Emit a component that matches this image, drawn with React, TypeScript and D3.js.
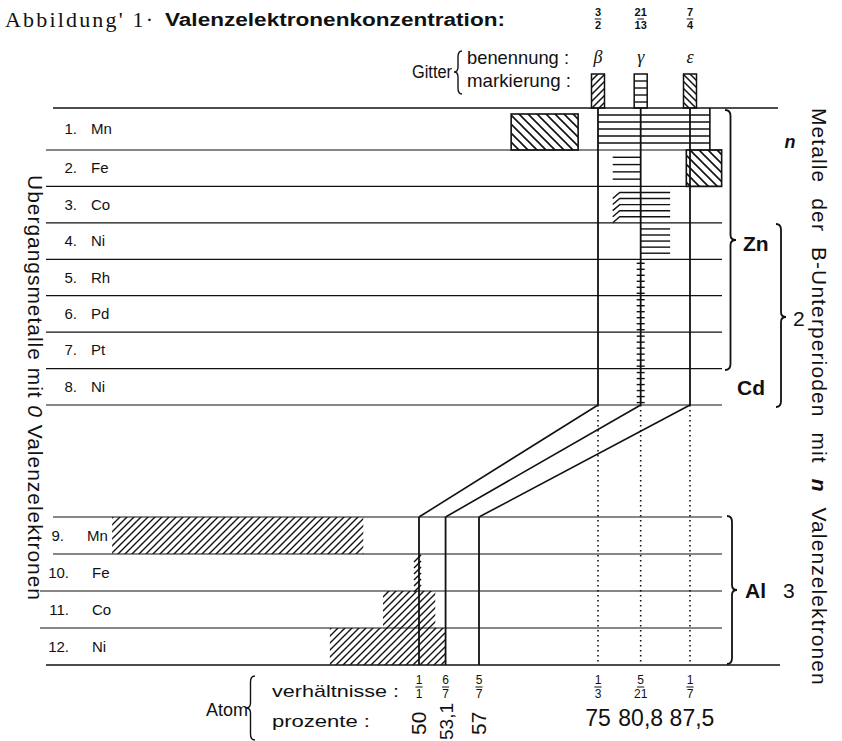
import React from "react";
import * as d3 from "d3";

// rows of the diagram
const upperMetals = ["Mn", "Fe", "Co", "Ni", "Rh", "Pd", "Pt", "Ni"];
const lowerMetals = ["Mn", "Fe", "Co", "Ni"];

// phases on top
const phaseNames = ["β", "γ", "ε"];
const phaseConc = [["3", "2"], ["21", "13"], ["7", "4"]];

// bottom axis (atom ratios / percent)
const upperPct = [75, 80.8, 87.5];
const upperPctLabels = ["75", "80,8", "87,5"];
const upperRatio = [["1", "3"], ["5", "21"], ["1", "7"]];
const lowerPct = [50, 53.1, 57];
const lowerPctLabels = ["50", "53,1", "57"];
const lowerRatio = [["1", "1"], ["6", "7"], ["5", "7"]];

// hatched fields (row, from %, to %)
const upperBackHatch = [
  { row: 0, from: 63.2, to: 72.3 },
  { row: 1, from: 87.0, to: 91.8 },
];
const upperGammaLines = [
  { row: 0, from: 75, to: 90.2, n: 5, slant: false },
  { row: 1, from: 77, to: 80.8, n: 4, slant: false },
  { row: 2, from: 77, to: 84.8, n: 5, slant: true },
  { row: 3, from: 80.8, to: 84.8, n: 5, slant: false },
];
const upperLadderRows = [4, 5, 6, 7];
const lowerHatch = [
  { row: 0, from: 14.2, to: 43.5 },
  { row: 2, from: 45.8, to: 51.9 },
  { row: 3, from: 39.6, to: 53.1 },
];
const lowerLadderRows = [1];

const sans = "'Liberation Sans', Arial, sans-serif";
const narrow = "'Liberation Sans Narrow', 'Liberation Sans', Arial, sans-serif";

function brace(x: number, y1: number, y2: number, ym: number, w: number, dir = 1) {
  const h = x + (dir * w) / 2;
  const t = x + dir * w;
  return `M${x},${y1} Q${h},${y1} ${h},${y1 + 6} L${h},${ym - 5} Q${h},${ym} ${t},${ym} Q${h},${ym} ${h},${ym + 5} L${h},${y2 - 6} Q${h},${y2} ${x},${y2}`;
}

export default function App() {
  const W = 842, H = 741;
  const xUp = d3.scaleLinear().domain([75, 87.5]).range([598, 690]);
  const xLo = d3.scaleLinear().domain([50, 57]).range([419, 479]);
  const yUp = d3.scaleLinear().domain([1, 8]).range([150, 405]);
  const upTop = (r: number) => (r === 0 ? 108 : yUp(r));
  const yLo = d3.scaleLinear().domain([0, 4]).range([517, 665]);
  const ink = "#111";

  const fraction = (x: number, y: number, num: string, den: string, size: number, weight = "normal") => (
    <g key={`${x}-${y}-${num}`} fontFamily={sans} fontSize={size} fontWeight={weight} textAnchor="middle" fill={ink}>
      <text x={x} y={y}>{num}</text>
      <line x1={x - size * 0.3} x2={x + size * 0.3} y1={y + 3} y2={y + 3} stroke={ink} strokeWidth={1} />
      <text x={x} y={y + size + 2}>{den}</text>
    </g>
  );

  return (
    <svg width={W} height={H} style={{ position: "absolute", left: 0, top: 0, background: "#fff" }}>
      <defs>
        <pattern id="fwd" patternUnits="userSpaceOnUse" width={7} height={7}>
          <path d="M-1,1 L1,-1 M0,7 L7,0 M6,8 L8,6" stroke={ink} strokeWidth={1.4} />
        </pattern>
        <pattern id="fwdS" patternUnits="userSpaceOnUse" width={7} height={7}>
          <path d="M-1,1 L1,-1 M0,7 L7,0 M6,8 L8,6" stroke={ink} strokeWidth={1.5} />
        </pattern>
        <pattern id="back" patternUnits="userSpaceOnUse" width={9} height={9}>
          <path d="M-1,8 L1,10 M0,0 L9,9 M8,-1 L10,1" stroke={ink} strokeWidth={1.6} />
        </pattern>
        <pattern id="backS" patternUnits="userSpaceOnUse" width={7} height={7}>
          <path d="M-1,6 L1,8 M0,0 L7,7 M6,-1 L8,1" stroke={ink} strokeWidth={1.5} />
        </pattern>
      </defs>

      {/* title */}
      <text x={5} y={27} fontFamily="'Liberation Serif', 'DejaVu Serif', serif" fontSize={22} textLength={148} lengthAdjust="spacing" fill={ink}>
        Abbildung' 1·
      </text>
      <text x={165} y={26} fontFamily={narrow} fontWeight="bold" fontSize={18} textLength={340} lengthAdjust="spacingAndGlyphs" fill={ink}>
        Valenzelektronenkonzentration:
      </text>
      {upperPct.map((p, i) => fraction(xUp(p), 16, phaseConc[i][0], phaseConc[i][1], 11, "bold"))}

      {/* Gitter header */}
      <text x={412} y={78} fontFamily={narrow} fontSize={18} textLength={40} lengthAdjust="spacingAndGlyphs" fill={ink}>Gitter</text>
      <path d={brace(462, 51, 94, 72, 8, -1)} fill="none" stroke={ink} strokeWidth={1.4} />
      <text x={467} y={64} fontFamily={narrow} fontSize={19} textLength={102} lengthAdjust="spacingAndGlyphs" fill={ink}>benennung :</text>
      <text x={467} y={87} fontFamily={narrow} fontSize={19} textLength={104} lengthAdjust="spacingAndGlyphs" fill={ink}>markierung :</text>
      {upperPct.map((p, i) => (
        <text key={`ph${i}`} x={xUp(p)} y={63} textAnchor="middle" fontFamily="'Liberation Serif', serif" fontStyle="italic" fontSize={18} fill={ink}>
          {phaseNames[i]}
        </text>
      ))}
      {upperPct.map((p, i) => {
        const x = xUp(p) - 6.5;
        return (
          <g key={`mk${i}`}>
            {i === 1 ? (
              d3.range(1, 5).map((k) => (
                <line key={k} x1={x} x2={x + 13} y1={74 + k * 7} y2={74 + k * 7} stroke={ink} strokeWidth={1.4} />
              ))
            ) : (
              <rect x={x} y={74} width={13} height={34} fill={i === 0 ? "url(#fwdS)" : "url(#backS)"} />
            )}
            <rect x={x} y={74} width={13} height={34} fill="none" stroke={ink} strokeWidth={1.5} />
          </g>
        );
      })}

      {/* row lines */}
      <line x1={53} x2={778} y1={108} y2={108} stroke={ink} strokeWidth={1.4} />
      {d3.range(1, 9).map((r) => (
        <line key={`ur${r}`} x1={46} x2={722} y1={yUp(r)} y2={yUp(r)} stroke={ink} strokeWidth={1.2} />
      ))}
      {d3.range(0, 4).map((r) => (
        <line key={`lr${r}`} x1={r < 2 ? 53 : 40} x2={722} y1={yLo(r)} y2={yLo(r)} stroke={ink} strokeWidth={1.2} />
      ))}
      <line x1={46} x2={780} y1={yLo(4)} y2={yLo(4)} stroke={ink} strokeWidth={1.6} />

      {/* row labels */}
      {upperMetals.map((m, i) => {
        const y = (upTop(i) + yUp(i + 1)) / 2 + 5;
        return (
          <g key={`um${i}`} fontFamily={sans} fontSize={15} fill={ink}>
            <text x={77} y={y} textAnchor="end">{`${i + 1}.`}</text>
            <text x={91} y={y}>{m}</text>
          </g>
        );
      })}
      {lowerMetals.map((m, i) => {
        const y = (yLo(i) + yLo(i + 1)) / 2 + 5;
        return (
          <g key={`lm${i}`} fontFamily={sans} fontSize={15} fill={ink}>
            <text x={i === 0 ? 64 : 69} y={y} textAnchor="end">{`${i + 9}.`}</text>
            <text x={i === 0 ? 87 : 92} y={y}>{m}</text>
          </g>
        );
      })}

      {/* upper hatched fields */}
      {upperBackHatch.map((d, i) => {
        const y0 = d.row === 0 ? upTop(0) + 6 : upTop(d.row);
        const y1 = d.row === 0 ? yUp(1) : yUp(d.row + 1);
        return (
          <rect key={`ub${i}`} x={xUp(d.from)} y={y0} width={xUp(d.to) - xUp(d.from)} height={y1 - y0}
            fill="url(#back)" stroke={ink} strokeWidth={1.6} />
        );
      })}
      {upperGammaLines.map((d, i) => {
        const y0 = upTop(d.row);
        const y1 = yUp(d.row + 1);
        const step = (y1 - y0) / (d.n + 1);
        return (
          <g key={`ug${i}`} stroke={ink} strokeWidth={1.4} fill="none">
            {d3.range(1, d.n + 1).map((k) => {
              const y = y0 + k * step;
              return d.slant ? (
                <polyline key={k} points={`${xUp(d.from)},${y + 6} ${xUp(d.from) + 7},${y} ${xUp(d.to)},${y}`} />
              ) : (
                <line key={k} x1={xUp(d.from)} x2={xUp(d.to)} y1={y} y2={y} />
              );
            })}
            {d.row === 0 && <line x1={xUp(d.to)} x2={xUp(d.to)} y1={y0} y2={y1} strokeWidth={1.6} />}
          </g>
        );
      })}
      {upperLadderRows.map((r) => (
        <g key={`lad${r}`} stroke={ink} strokeWidth={1.4}>
          {d3.range(yUp(r) + 4, yUp(r + 1), 6).map((y) => (
            <line key={y} x1={xUp(80.8) - 4} x2={xUp(80.8) + 4} y1={y} y2={y} />
          ))}
        </g>
      ))}

      {/* lower hatched fields */}
      {lowerHatch.map((d, i) => (
        <rect key={`lh${i}`} x={xLo(d.from)} y={yLo(d.row)} width={xLo(d.to) - xLo(d.from)} height={yLo(d.row + 1) - yLo(d.row)}
          fill="url(#fwd)" />
      ))}
      {lowerLadderRows.map((r) => (
        <g key={`ll${r}`} stroke={ink} strokeWidth={1.4}>
          {d3.range(yLo(r) + 4, yLo(r + 1), 6).map((y) => (
            <line key={y} x1={xLo(50) - 5} x2={xLo(50) + 2} y1={y + 4} y2={y - 3} />
          ))}
        </g>
      ))}

      {/* phase boundaries */}
      {upperPct.map((p, i) => (
        <g key={`pb${i}`} stroke={ink} fill="none">
          <line x1={xUp(p)} x2={xUp(p)} y1={108} y2={yUp(8)} strokeWidth={1.8} />
          <line x1={xUp(p)} x2={xLo(lowerPct[i])} y1={yUp(8)} y2={yLo(0)} strokeWidth={1.6} />
          <line x1={xLo(lowerPct[i])} x2={xLo(lowerPct[i])} y1={yLo(0)} y2={yLo(4)} strokeWidth={1.8} />
          <line x1={xUp(p)} x2={xUp(p)} y1={yUp(8)} y2={yLo(4)} strokeWidth={1.6} strokeDasharray="1.6 3.4" />
        </g>
      ))}

      {/* braces on the right */}
      <path d={brace(725, 110, 370, 240, 11)} fill="none" stroke={ink} strokeWidth={1.8} />
      <path d={brace(776, 224, 407, 317, 10)} fill="none" stroke={ink} strokeWidth={1.8} />
      <path d={brace(727, 516, 664, 590, 10)} fill="none" stroke={ink} strokeWidth={1.8} />
      <g fontFamily={sans} fontSize={21} fill={ink}>
        <text x={790} y={148} fontWeight="bold" fontStyle="italic" fontSize={18} textAnchor="middle">n</text>
        <text x={743} y={251} fontWeight="bold">Zn</text>
        <text x={737} y={395} fontWeight="bold">Cd</text>
        <text x={793} y={326}>2</text>
        <text x={745} y={598} fontWeight="bold">Al</text>
        <text x={783} y={598}>3</text>
      </g>

      {/* side titles */}
      <text transform="translate(812,108) rotate(90)" fontFamily={sans} fontSize={21} letterSpacing={1.1} wordSpacing={8} fill={ink}>
        Metalle der B-Unterperioden mit <tspan fontWeight="bold" fontStyle="italic">n</tspan> Valenzelektronen
      </text>
      <text transform="translate(28,175) rotate(90)" fontFamily={sans} fontSize={21}
        textLength={425} lengthAdjust="spacing" fill={ink}>
        Ubergangsmetalle mit <tspan fontStyle="italic">0</tspan> Valenzelektronen
      </text>

      {/* bottom axis */}
      <text x={206} y={716} fontFamily={sans} fontSize={18} fill={ink}>Atom</text>
      <path d={brace(255, 676, 740, 708, 9, -1)} fill="none" stroke={ink} strokeWidth={1.4} />
      <text x={272} y={697} fontFamily={sans} fontSize={17} textLength={127} lengthAdjust="spacingAndGlyphs" fill={ink}>verhältnisse :</text>
      <text x={272} y={727} fontFamily={sans} fontSize={17} textLength={98} lengthAdjust="spacingAndGlyphs" fill={ink}>prozente :</text>
      {lowerPct.map((p, i) => fraction(xLo(p), 684, lowerRatio[i][0], lowerRatio[i][1], 12))}
      {upperPct.map((p, i) => fraction(xUp(p), 684, upperRatio[i][0], upperRatio[i][1], 12))}
      {lowerPct.map((p, i) => (
        <text key={`lp${i}`} transform={`translate(${xLo(p) + 7},${i === 1 ? 740 : 735}) rotate(-90)`} fontFamily={sans} fontSize={i === 1 ? 19 : 21} fill={ink}>
          {lowerPctLabels[i]}
        </text>
      ))}
      {upperPct.map((p, i) => (
        <text key={`up${i}`} x={xUp(p) + (i === 2 ? 2 : 0)} y={726} textAnchor="middle" fontFamily={sans} fontSize={23} fill={ink}>
          {upperPctLabels[i]}
        </text>
      ))}
    </svg>
  );
}
